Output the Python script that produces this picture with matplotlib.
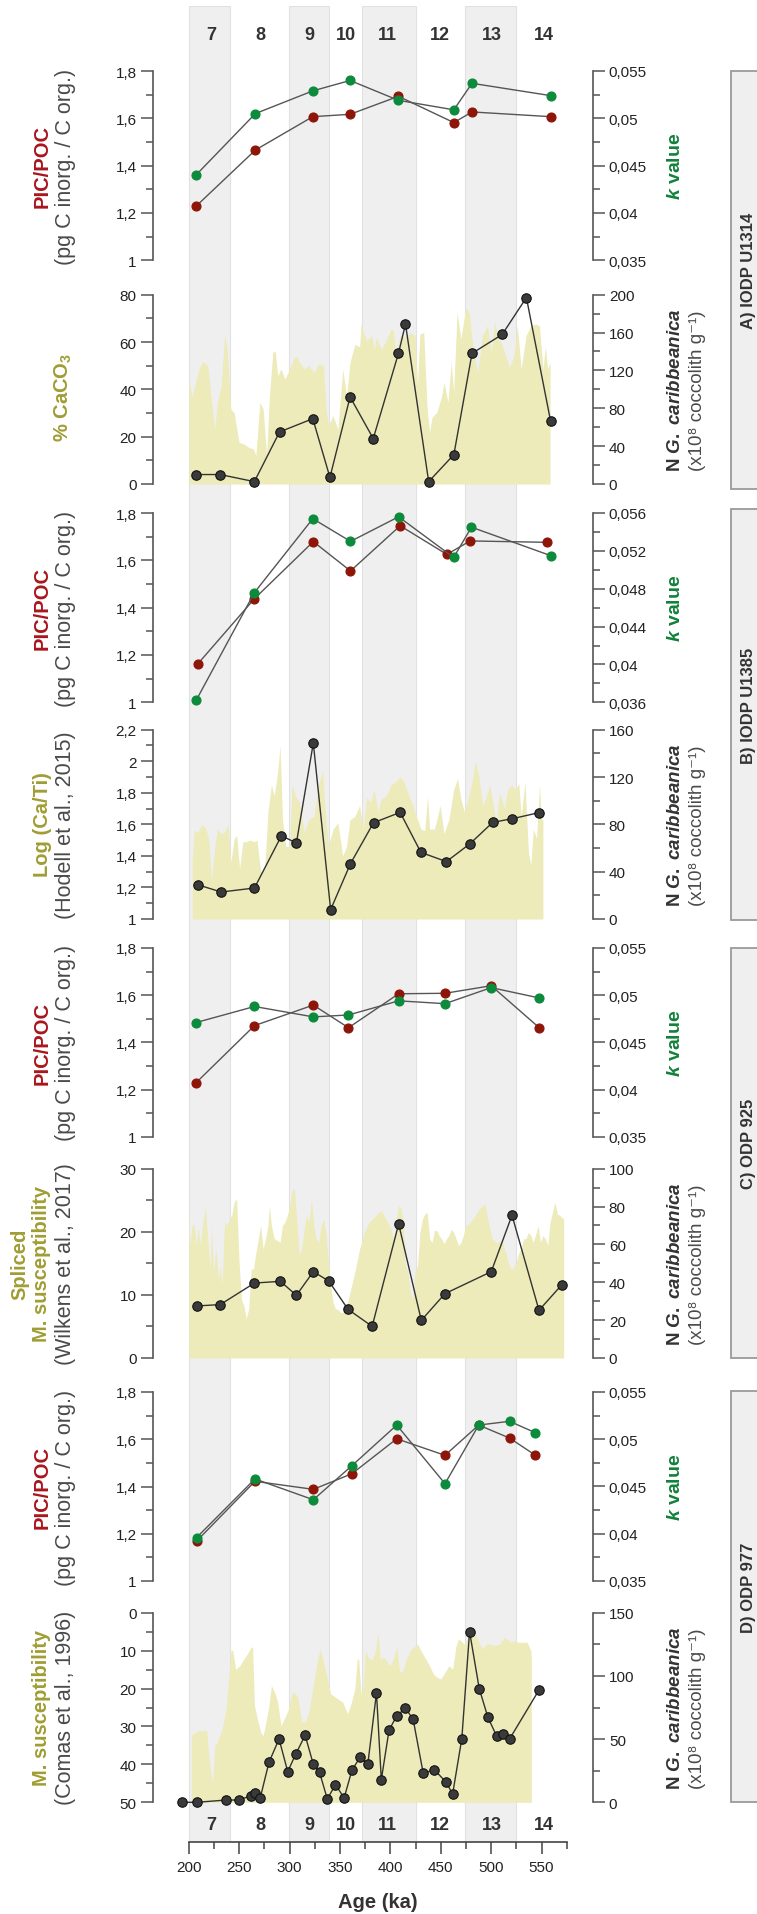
import matplotlib
matplotlib.use("Agg")
import matplotlib.pyplot as plt
from matplotlib import font_manager
from matplotlib.patches import Rectangle
from matplotlib.ticker import FixedLocator, FuncFormatter

# ---------------- data ----------------
mis_stage = ["7", "8", "9", "10", "11", "12", "13", "14"]
mis_label_age = [222.5, 271, 320, 355.5, 397, 449, 500.5, 552]
interglacial_start = [200, 299, 372, 474]
interglacial_end = [241, 339, 425.5, 525]

# A) IODP U1314
picpoc_age_A = [207, 266, 323, 360, 408, 463, 481, 559]
picpoc_A = [1.228, 1.466, 1.607, 1.617, 1.693, 1.582, 1.627, 1.607]
kval_age_A = [207, 266, 323, 360, 408, 463, 481, 559]
kval_A = [0.0440, 0.0505, 0.0529, 0.0540, 0.0519, 0.0509, 0.0537, 0.0524]
ncarib_age_A = [207, 231, 265, 290, 323, 340, 360, 383, 408, 415, 438, 463, 481, 511, 535, 559]
ncarib_A = [10, 10, 2.5, 55, 69, 7, 92, 48, 138, 169, 2.5, 31, 138, 158, 197, 66.5]
caco3_age = [200.0, 202.9, 206.7, 210.1, 213.9, 218.7, 222.5, 225.8, 228.2, 232.1,
             235.4, 237.8, 241.6, 245.0, 249.8, 254.6, 259.4, 264.1, 266.5, 270.4,
             273.7, 277.1, 279.9, 283.3, 285.7, 288.1, 291.4, 295.3, 300.0, 304.8,
             307.2, 309.6, 314.4, 319.2, 324.0, 328.8, 333.6, 336.0, 338.4, 343.1,
             347.9, 352.7, 356.5, 359.9, 364.7, 369.5, 370.9, 374.2, 376.6, 381.4,
             383.8, 386.2, 391.0, 395.8, 400.6, 403.0, 405.4, 410.1, 414.9, 419.7,
             424.5, 426.9, 429.3, 433.1, 436.5, 438.9, 441.3, 446.1, 450.8, 453.2,
             457.1, 460.4, 462.8, 466.2, 470.0, 474.8, 478.1, 482.0, 486.7, 491.5,
             496.3, 500.1, 503.5, 507.3, 510.7, 515.5, 517.9, 520.3, 522.6, 526.0,
             529.8, 534.6, 539.4, 544.2, 548.0, 551.4, 553.8, 556.1, 558.5]
caco3 = [43.7, 37.0, 43.0, 48.6, 51.7, 50.0, 34.5, 23.0, 34.5, 41.5,
         62.7, 58.0, 31.7, 30.0, 17.6, 16.9, 15.5, 14.8, 12.0, 34.5,
         31.7, 12.0, 37.0, 55.6, 56.3, 45.8, 48.6, 44.4, 48.6, 53.5,
         54.0, 51.4, 48.6, 50.0, 47.0, 50.7, 50.0, 31.7, 24.6, 28.9,
         23.0, 48.6, 37.0, 51.4, 59.0, 58.0, 67.6, 62.7, 60.6, 62.7,
         57.0, 62.0, 57.0, 60.6, 65.5, 64.8, 55.6, 62.7, 62.0, 64.0,
         62.7, 41.5, 63.4, 64.0, 31.7, 21.8, 28.2, 30.3, 37.0, 43.0,
         34.5, 51.4, 38.7, 72.5, 61.3, 74.6, 72.5, 57.0, 47.0, 62.7,
         66.9, 55.6, 68.3, 61.3, 59.0, 52.8, 49.3, 51.4, 54.2, 66.9,
         48.6, 62.7, 66.9, 67.6, 66.9, 48.6, 58.0, 48.6, 51.4]

# B) IODP U1385
picpoc_age_B = [208.6, 265.1, 323.5, 360.4, 409.7, 456.1, 479.1, 555.7]
picpoc_B = [1.161, 1.438, 1.679, 1.555, 1.746, 1.625, 1.682, 1.676]
kval_age_B = [207.2, 265.1, 323.0, 360.4, 408.2, 462.8, 480.5, 559.0]
kval_B = [0.0362, 0.0476, 0.0554, 0.0530, 0.0556, 0.0513, 0.0545, 0.0515]
ncarib_age_B = [208.6, 232.1, 265.1, 291.9, 306.7, 323.5, 340.7, 360.4, 383.3, 409.7,
                430.3, 455.6, 479.1, 501.6, 521.2, 547.5]
ncarib_B = [29.0, 22.8, 26.2, 70.4, 64.2, 148.7, 7.9, 46.8, 81.4, 90.1,
            56.3, 48.5, 63.7, 81.7, 84.8, 89.9]
log_cati_age = [203.4, 205.3, 209.1, 212.9, 216.3, 219.6, 222.5, 225.8, 228.2, 232.1,
                235.4, 238.8, 241.6, 245.0, 247.4, 250.3, 253.6, 257.0, 260.8, 264.1,
                267.5, 271.3, 275.2, 278.5, 281.9, 284.7, 288.1, 290.5, 292.9, 296.2,
                300.0, 302.4, 305.8, 309.6, 312.0, 314.4, 319.2, 324.0, 328.8, 332.6,
                336.0, 338.4, 343.1, 347.9, 352.7, 356.5, 359.9, 364.7, 369.5, 372.8,
                376.6, 380.5, 383.8, 387.6, 391.0, 395.8, 400.6, 405.4, 409.2, 412.5,
                417.3, 422.1, 426.9, 430.3, 434.1, 436.9, 438.9, 443.7, 446.1, 449.4,
                453.2, 458.0, 462.8, 466.6, 470.0, 473.3, 477.2, 481.0, 484.3, 487.7,
                491.5, 495.4, 498.7, 501.1, 504.9, 508.3, 513.1, 516.4, 520.3, 524.1,
                527.4, 529.8, 533.6, 537.0, 539.4, 541.8, 545.1, 548.0, 549.9, 551.4]
log_cati = [1.38, 1.56, 1.55, 1.60, 1.58, 1.51, 1.25, 1.46, 1.57, 1.54,
            1.55, 1.60, 1.36, 1.51, 1.53, 1.32, 1.49, 1.49, 1.50, 1.49,
            1.50, 1.30, 1.32, 1.68, 1.85, 1.78, 1.93, 2.10, 1.63, 1.46,
            1.46, 1.85, 1.78, 1.74, 1.65, 1.55, 1.63, 1.65, 1.85, 1.94,
            1.63, 1.46, 1.57, 1.61, 1.40, 1.46, 1.63, 1.65, 1.72, 1.57,
            1.77, 1.74, 1.82, 1.68, 1.76, 1.78, 1.85, 1.87, 1.90, 1.88,
            1.80, 1.72, 1.63, 1.57, 1.56, 1.78, 1.57, 1.57, 1.63, 1.72,
            1.54, 1.63, 1.82, 1.89, 1.76, 1.68, 1.76, 1.87, 2.00, 1.91,
            1.72, 1.78, 1.85, 1.76, 1.61, 1.80, 1.70, 1.82, 1.85, 1.82,
            1.86, 1.65, 1.87, 1.42, 1.34, 1.57, 1.51, 1.85, 1.63, 1.63]

# C) ODP 925
picpoc_age_C = [207.2, 265.1, 323.5, 358.4, 408.2, 454.2, 500.1, 548.0]
picpoc_C = [1.229, 1.471, 1.558, 1.462, 1.606, 1.608, 1.640, 1.461]
kval_age_C = [207.2, 265.1, 323.5, 358.4, 408.2, 454.2, 500.1, 548.0]
kval_C = [0.0471, 0.0488, 0.0477, 0.0479, 0.0494, 0.0491, 0.0508, 0.0497]
ncarib_age_C = [207.7, 231.1, 265.1, 290.9, 306.7, 323.5, 338.8, 358.0, 381.9, 408.2,
                430.7, 454.2, 500.1, 520.7, 547.5, 570.0]
ncarib_C = [27.5, 28.2, 39.6, 40.5, 33.1, 45.6, 40.7, 25.7, 16.7, 70.8,
            19.9, 34.0, 45.6, 75.4, 25.2, 38.6]
msus_925_age = [200.0, 201.0, 203.4, 205.3, 207.2, 209.1, 211.5, 213.9, 216.3, 218.7,
                221.1, 222.5, 224.4, 226.8, 229.2, 231.1, 233.0, 235.4, 237.8, 240.2,
                242.6, 245.0, 247.4, 249.8, 252.2, 254.6, 257.0, 259.4, 261.8, 264.1,
                266.5, 268.9, 271.3, 273.7, 276.1, 278.5, 279.9, 281.9, 284.7, 288.1,
                290.5, 292.9, 295.3, 297.7, 300.0, 302.4, 304.8, 307.2, 309.6, 312.0,
                314.4, 316.8, 319.2, 321.6, 324.0, 326.4, 328.8, 331.2, 333.6, 336.0,
                338.4, 340.7, 343.1, 345.5, 347.9, 350.3, 352.7, 355.1, 357.5, 359.9,
                364.7, 369.5, 374.2, 379.0, 383.8, 388.6, 391.0, 395.8, 400.6, 403.0,
                405.4, 407.8, 410.1, 412.5, 414.9, 417.3, 419.7, 422.1, 424.5, 426.9,
                429.3, 431.7, 434.1, 436.5, 438.9, 441.3, 443.7, 446.1, 448.4, 450.8,
                453.2, 455.6, 458.0, 460.4, 462.8, 465.2, 467.6, 470.0, 472.4, 474.8,
                479.6, 484.3, 489.1, 493.9, 497.3, 501.1, 505.9, 510.7, 514.5, 517.9,
                520.3, 522.6, 525.0, 527.4, 529.8, 532.2, 534.6, 537.0, 539.4, 541.8,
                544.2, 546.6, 549.0, 551.4, 553.8, 556.1, 558.5, 560.9, 563.3, 565.7,
                568.1, 572.0]
msus_925 = [23.1, 17.8, 21.2, 21.0, 17.8, 20.7, 17.8, 21.5, 24.1, 18.9,
            14.1, 21.0, 13.6, 17.3, 12.5, 14.6, 11.5, 21.5, 21.0, 22.0,
            22.6, 24.7, 25.2, 15.2, 9.3, 8.3, 6.2, 7.8, 14.1, 14.1,
            16.7, 18.9, 21.0, 17.3, 18.9, 21.0, 24.1, 21.0, 18.9, 18.6,
            18.3, 21.0, 21.5, 22.6, 24.1, 26.5, 26.8, 21.5, 16.2, 17.3,
            20.4, 22.6, 21.5, 25.2, 21.0, 18.9, 18.3, 21.0, 22.0, 19.9,
            15.2, 11.5, 8.8, 7.8, 7.7, 7.2, 7.2, 8.3, 8.8, 10.4,
            13.6, 17.3, 19.9, 21.5, 22.3, 23.1, 23.3, 22.0, 20.4, 18.9,
            21.0, 24.1, 23.9, 22.0, 14.6, 13.6, 10.4, 9.3, 13.6, 14.6,
            19.9, 22.0, 22.8, 23.1, 18.9, 18.3, 20.2, 20.2, 19.4, 18.9,
            18.1, 18.9, 19.4, 20.4, 19.9, 18.9, 17.8, 18.3, 19.4, 21.0,
            21.5, 22.6, 23.8, 24.4, 21.5, 18.9, 18.3, 18.6, 16.7, 14.6,
            14.1, 14.4, 15.2, 16.7, 17.3, 18.9, 18.9, 19.9, 19.4, 18.3,
            19.6, 21.0, 18.3, 19.4, 18.9, 17.8, 21.5, 23.1, 24.7, 22.8,
            22.6, 22.0]

# D) ODP 977
picpoc_age_D = [207.7, 265.6, 323.5, 361.8, 406.3, 454.2, 487.7, 518.3, 543.7]
picpoc_D = [1.169, 1.422, 1.388, 1.454, 1.602, 1.532, 1.660, 1.605, 1.533]
kval_age_D = [207.7, 265.6, 323.5, 361.8, 406.3, 454.2, 487.7, 518.3, 543.7]
kval_D = [0.0396, 0.0458, 0.0436, 0.0472, 0.0515, 0.0453, 0.0515, 0.0519, 0.0507]
ncarib_age_D = [193.3, 208.1, 236.9, 249.3, 261.3, 265.6, 270.8, 279.5, 289.5, 298.1,
                306.3, 315.4, 323.5, 329.7, 337.4, 345.5, 354.1, 361.8, 369.9, 377.6,
                386.2, 391.0, 398.7, 406.3, 414.9, 422.6, 432.6, 443.6, 455.1, 461.8,
                470.9, 478.6, 488.2, 496.8, 505.4, 512.1, 518.3, 547.5]
ncarib_D = [0.0, 0.0, 1.8, 1.8, 5.0, 7.1, 3.4, 31.6, 50.1, 24.3,
            38.5, 53.0, 30.1, 23.7, 2.6, 14.0, 3.4, 25.3, 35.6, 30.3,
            86.5, 17.9, 57.2, 68.3, 74.6, 65.6, 22.9, 25.8, 16.1, 6.6,
            50.4, 135.0, 89.9, 67.2, 52.5, 53.8, 50.1, 88.8]
msus_977_age = [202.4, 206.7, 209.1, 213.9, 217.7, 219.6, 222.5, 223.5, 225.8, 228.2,
                233.0, 236.9, 240.2, 241.6, 243.6, 246.4, 250.7, 254.6, 257.9, 261.8,
                263.2, 265.1, 268.0, 271.3, 273.7, 277.1, 279.5, 281.9, 285.7, 288.1,
                291.4, 295.3, 299.1, 302.4, 305.8, 308.2, 312.0, 315.4, 319.2, 324.0,
                327.3, 330.2, 333.6, 337.4, 340.7, 345.5, 352.7, 357.5, 360.8, 364.7,
                367.1, 368.5, 370.9, 372.8, 375.2, 378.1, 381.4, 384.8, 387.6, 390.0,
                393.4, 397.2, 399.6, 403.0, 406.3, 409.2, 412.5, 415.9, 419.7, 423.1,
                426.9, 430.3, 434.1, 438.9, 442.7, 446.1, 449.9, 453.2, 458.0, 461.8,
                465.2, 467.6, 470.0, 473.3, 477.2, 479.6, 482.0, 484.3, 487.7, 491.5,
                495.4, 500.1, 503.5, 508.3, 513.1, 515.5, 519.3, 522.6, 527.4, 532.2,
                535.6, 539.4, 539.9]
msus_977 = [32.4, 31.5, 31.1, 31.1, 31.1, 37.7, 43.8, 44.7, 35.0, 34.2,
            30.7, 25.4, 15.7, 10.0, 10.0, 14.9, 14.0, 12.2, 10.9, 9.1,
            9.1, 24.5, 28.0, 31.5, 32.4, 28.0, 24.5, 19.2, 21.4, 23.6,
            29.8, 27.6, 25.4, 21.0, 21.4, 22.3, 28.9, 28.9, 26.3, 18.4,
            13.1, 9.6, 13.1, 17.5, 21.4, 22.3, 23.6, 26.7, 24.1, 20.1,
            12.2, 12.2, 21.4, 20.1, 10.0, 11.8, 12.7, 10.5, 5.2, 12.2,
            11.8, 13.1, 14.0, 12.2, 9.1, 15.7, 15.3, 12.2, 10.0, 9.1,
            8.3, 10.0, 11.8, 14.0, 16.2, 17.0, 17.5, 16.2, 14.0, 14.9,
            8.7, 6.9, 7.4, 8.3, 6.5, 5.2, 6.5, 5.6, 7.8, 9.6,
            8.3, 8.3, 8.7, 8.3, 6.5, 6.9, 7.8, 7.4, 7.8, 7.8,
            7.8, 10.0, 12.2]

site_names = ["A) IODP U1314", "B) IODP U1385", "C) ODP 925", "D) ODP 977"]

# ---------------- style ----------------
W, H = 757, 1915
fig = plt.figure(figsize=(W / 100, H / 100), dpi=100)

installed = {f.name for f in font_manager.fontManager.ttflist}
if "Liberation Sans Narrow" in installed:
    NUM_FONT, NUM_SIZE = "Liberation Sans Narrow", 12.5
else:
    NUM_FONT, NUM_SIZE = "Liberation Sans", 11
TXT_FONT = ["Liberation Sans", "DejaVu Sans"]
plt.rcParams["font.family"] = [NUM_FONT, "DejaVu Sans"]
plt.rcParams["mathtext.fontset"] = "custom"
plt.rcParams["mathtext.it"] = "Liberation Sans:italic:bold"
plt.rcParams["mathtext.rm"] = "Liberation Sans:bold"
plt.rcParams["mathtext.bf"] = "Liberation Sans:bold"

RED = "#8e1609"
GREEN = "#0b8b3b"
RED_TXT = "#a8161c"
GREEN_TXT = "#12803b"
OLIVE = "#a09d33"
FILL = "#ecebb9"
BAND = "#efefef"
AXIS = "#555555"
LINE = "#555555"
TICK_TXT = "#222222"
GRAY_TXT = "#4a4a4a"
DARK_TXT = "#333333"

AGE_LIM = (164, 601)
X_LEFT, X_RIGHT = 152.6, 592.9
LEFT_MAIN, LEFT_SUB, RIGHT_SIZE = 14.5, 15.5, 13.5


def rect(x0, y0, x1, y1):
    return [x0 / W, 1 - y1 / H, (x1 - x0) / W, (y1 - y0) / H]


comma = FuncFormatter(lambda v, p: f"{v:g}".replace(".", ","))

# ---------------- background: MIS bands + age axis ----------------
BG_TOP, BG_BOT = 7, 1842.7
bg = fig.add_axes(rect(X_LEFT, BG_TOP, X_RIGHT, BG_BOT))
bg.set_xlim(AGE_LIM)
bg.set_ylim(0, 1)
for s in ("top", "left", "right"):
    bg.spines[s].set_visible(False)
bg.spines["bottom"].set_bounds(200, 575)
bg.spines["bottom"].set_color("#444444")
bg.spines["bottom"].set_linewidth(1.2)
bg.set_yticks([])
bg.xaxis.set_major_locator(FixedLocator(range(200, 551, 50)))
bg.xaxis.set_minor_locator(FixedLocator(range(225, 576, 50)))
bg.tick_params(axis="x", which="major", length=8.5, width=1.1, color="#444444",
               labelsize=NUM_SIZE, labelcolor=TICK_TXT, pad=5)
bg.tick_params(axis="x", which="minor", length=5, width=1.1, color="#444444")
for a0, a1 in zip(interglacial_start, interglacial_end):
    bg.axvspan(a0, a1, facecolor=BAND, edgecolor="#e1e1e1", lw=0.8, zorder=0)
y_top_lab = (BG_BOT - 35) / (BG_BOT - BG_TOP)
y_bot_lab = (BG_BOT - 1826) / (BG_BOT - BG_TOP)
for st, ag in zip(mis_stage, mis_label_age):
    for yy in (y_top_lab, y_bot_lab):
        bg.text(ag, yy, st, ha="center", va="center", fontsize=13,
                fontweight="bold", color="#333333")
bg.text(387.5, (BG_BOT - 1903) / (BG_BOT - BG_TOP), "Age (ka)", ha="center",
        va="center", fontsize=14.5, fontweight="bold", color=DARK_TXT, clip_on=False)


# ---------------- helpers ----------------
def panel(top, bottom):
    ax = fig.add_axes(rect(X_LEFT, top, X_RIGHT, bottom))
    ax2 = ax.twinx()
    for a in (ax, ax2):
        a.set_xlim(AGE_LIM)
        a.patch.set_visible(False)
        a.xaxis.set_visible(False)
        for s in ("top", "bottom"):
            a.spines[s].set_visible(False)
    ax.spines["right"].set_visible(False)
    ax2.spines["left"].set_visible(False)
    return ax, ax2


def y_axis(a, lim, major, minor, side):
    a.set_ylim(lim)
    a.yaxis.set_major_locator(FixedLocator(major))
    a.yaxis.set_minor_locator(FixedLocator(minor))
    a.yaxis.set_major_formatter(comma)
    a.tick_params(axis="y", which="major", length=8.5, width=1.1, color=AXIS,
                  labelsize=NUM_SIZE, labelcolor=TICK_TXT, pad=3)
    a.tick_params(axis="y", which="minor", length=5, width=1.1, color=AXIS)
    a.spines[side].set_color(AXIS)
    a.spines[side].set_linewidth(1.2)


def vtext(x, y, s, color, weight="normal", size=RIGHT_SIZE):
    fig.text(x / W, 1 - y / H, s, rotation=90, ha="center", va="center",
             color=color, fontsize=size, fontweight=weight, family=TXT_FONT)


def picpoc_panel(top, bottom, age_r, red, age_g, green, k_lim, k_major, k_minor):
    ax, ax2 = panel(top, bottom)
    y_axis(ax, (1, 1.8), [1, 1.2, 1.4, 1.6, 1.8], [1.1, 1.3, 1.5, 1.7], "left")
    y_axis(ax2, k_lim, k_major, k_minor, "right")
    ax.plot(age_r, red, color=LINE, lw=1, marker="o", ms=6.3, mfc=RED, mec=RED,
            clip_on=False, zorder=3)
    ax2.plot(age_g, green, color=LINE, lw=1, marker="o", ms=6.3, mfc=GREEN,
             mec=GREEN, clip_on=False, zorder=3)
    yc = (top + bottom) / 2
    vtext(42, yc, "PIC/POC", RED_TXT, "bold", LEFT_MAIN)
    vtext(66, yc, "(pg C inorg. / C org.)", GRAY_TXT, "normal", LEFT_SUB)
    vtext(676, yc, r"$k$ value", GREEN_TXT, "bold", 14)


def ncarib_plot(ax2, age, vals, top, bottom):
    ax2.plot(age, vals, color="#333333", lw=1, marker="o", ms=6.8, mfc="#3a3a3a",
             mec="#111111", mew=0.8, clip_on=False, zorder=3)
    yc = (top + bottom) / 2
    vtext(676, yc, r"N $G.\ caribbeanica$", DARK_TXT, "bold")
    vtext(698, yc, "(x10\u2078 coccolith g\u207b\u00b9)", GRAY_TXT)


# ---------------- A) IODP U1314 ----------------
picpoc_panel(72, 261.3, picpoc_age_A, picpoc_A, kval_age_A, kval_A,
             (0.035, 0.055), [0.035, 0.04, 0.045, 0.05, 0.055],
             [0.0375, 0.0425, 0.0475, 0.0525])

ax, ax2 = panel(295.7, 485)
y_axis(ax, (0, 80), [0, 20, 40, 60, 80], [10, 30, 50, 70], "left")
y_axis(ax2, (0, 200), [0, 40, 80, 120, 160, 200], [20, 60, 100, 140, 180], "right")
ax.fill_between(caco3_age, caco3, 0, color=FILL, lw=0, zorder=1)
ncarib_plot(ax2, ncarib_age_A, ncarib_A, 295.7, 485)
vtext(63, 398, "% CaCO$_3$", OLIVE, "bold", LEFT_MAIN)

# ---------------- B) IODP U1385 ----------------
picpoc_panel(514, 703.3, picpoc_age_B, picpoc_B, kval_age_B, kval_B,
             (0.036, 0.056), [0.036, 0.04, 0.044, 0.048, 0.052, 0.056],
             [0.038, 0.042, 0.046, 0.05, 0.054])

ax, ax2 = panel(730.7, 920)
y_axis(ax, (1, 2.2), [1, 1.2, 1.4, 1.6, 1.8, 2, 2.2],
       [1.1, 1.3, 1.5, 1.7, 1.9, 2.1], "left")
y_axis(ax2, (0, 160), [0, 40, 80, 120, 160], [20, 60, 100, 140], "right")
ax.fill_between(log_cati_age, log_cati, 1, color=FILL, lw=0, zorder=1)
ncarib_plot(ax2, ncarib_age_B, ncarib_B, 730.7, 920)
vtext(42, 825, "Log (Ca/Ti)", OLIVE, "bold", LEFT_MAIN)
vtext(65, 825, "(Hodell et al., 2015)", GRAY_TXT, "normal", LEFT_SUB)

# ---------------- C) ODP 925 ----------------
picpoc_panel(949, 1137.7, picpoc_age_C, picpoc_C, kval_age_C, kval_C,
             (0.035, 0.055), [0.035, 0.04, 0.045, 0.05, 0.055],
             [0.0375, 0.0425, 0.0475, 0.0525])

ax, ax2 = panel(1169.7, 1359)
y_axis(ax, (0, 30), [0, 10, 20, 30], [5, 15, 25], "left")
y_axis(ax2, (0, 100), [0, 20, 40, 60, 80, 100], [10, 30, 50, 70, 90], "right")
ax.fill_between(msus_925_age, msus_925, 0, color=FILL, lw=0, zorder=1)
ncarib_plot(ax2, ncarib_age_C, ncarib_C, 1169.7, 1359)
vtext(20, 1264, "Spliced", OLIVE, "bold", LEFT_MAIN)
vtext(42, 1264, "M. susceptibility", OLIVE, "bold", LEFT_MAIN)
vtext(65, 1264, "(Wilkens et al., 2017)", GRAY_TXT, "normal", LEFT_SUB)

# ---------------- D) ODP 977 ----------------
picpoc_panel(1393, 1582, picpoc_age_D, picpoc_D, kval_age_D, kval_D,
             (0.035, 0.055), [0.035, 0.04, 0.045, 0.05, 0.055],
             [0.0375, 0.0425, 0.0475, 0.0525])

ax, ax2 = panel(1613.7, 1803.3)
y_axis(ax, (50, 0), [0, 10, 20, 30, 40, 50], [5, 15, 25, 35, 45], "left")
y_axis(ax2, (0, 150), [0, 50, 100, 150], [25, 75, 125], "right")
ax.fill_between(msus_977_age, msus_977, 50, color=FILL, lw=0, zorder=1)
ncarib_plot(ax2, ncarib_age_D, ncarib_D, 1613.7, 1803.3)
vtext(42, 1708, "M. susceptibility", OLIVE, "bold", LEFT_MAIN)
vtext(65, 1708, "(Comas et al., 1996)", GRAY_TXT, "normal", LEFT_SUB)

# ---------------- site boxes ----------------
boxes = [(72, 490), (510, 921), (949, 1359), (1392, 1803)]
for (y0, y1), name in zip(boxes, site_names):
    fig.add_artist(Rectangle((730.5 / W, 1 - y1 / H), 40 / W, (y1 - y0) / H,
                             transform=fig.transFigure, facecolor="#efefef",
                             edgecolor="#9a9a9a", lw=1.3))
    vtext(749, (y0 + y1) / 2 - 10, name, DARK_TXT, "bold", 12)

fig.savefig("out.png", dpi=100)
